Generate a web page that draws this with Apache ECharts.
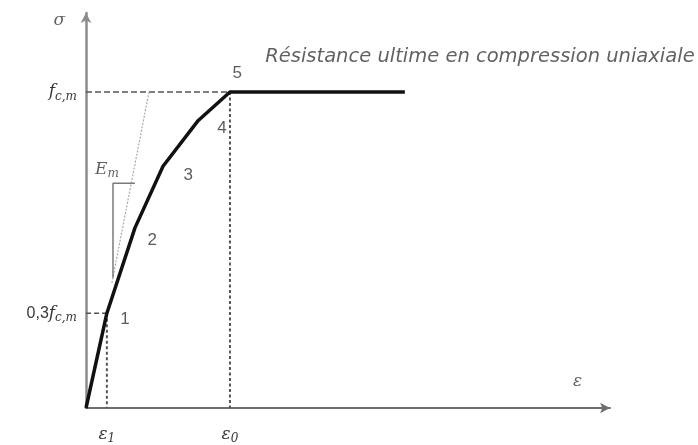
<!DOCTYPE html>
<html>
<head>
<meta charset="utf-8">
<script src="https://cdn.jsdelivr.net/npm/echarts@6/dist/echarts.min.js"></script>
<style>html,body{margin:0;padding:0;background:#fff}#c{width:698px;height:445px}</style>
</head>
<body>
<div id="c"></div>
<script>
// Strain (relative units, epsilon0 = 2) and normalised stress (fcm = 1)
const epsilon = [0, 0.29, 0.68, 1.07, 1.56, 2.0, 4.43];
const sigma   = [0, 0.30, 0.57, 0.765, 0.91, 1.0, 1.0];
const eps1 = 0.29, eps0 = 2.0;
const fcm = 1.0, fcm03 = 0.3;
// tangent (secant modulus Em) line and its slope triangle
const tangentX = [0.36, 0.875];
const tangentY = [0.396, 1.0];
const triX = [0.375, 0.375, 0.68];
const triY = [0.412, 0.711, 0.711];
// point numbers
const ptLabels = ['1', '2', '3', '4', '5'];
const ptX = [0.54, 0.92, 1.42, 1.89, 2.10];
const ptY = [0.28, 0.53, 0.736, 0.884, 1.06];
const titleText = 'Résistance ultime en compression uniaxiale';
const titlePos = [2.49, 1.11];
const emPos = [0.125, 0.755];
const sigmaPos = [-0.37, 1.225];
const epsPos = [6.83, 0.085];

const txt = '#38383c';
const chart = echarts.init(document.getElementById('c'));
const zip = (a, b) => a.map((v, i) => [v, b[i]]);
const mathRich = {
  i: {fontFamily: 'DejaVu Serif', fontStyle: 'italic', fontSize: 17, color: txt},
  s: {fontFamily: 'DejaVu Serif', fontStyle: 'italic', fontSize: 12, color: txt, padding: [9, 0, 0, 0]},
  n: {fontFamily: 'Liberation Sans', fontSize: 16, color: txt}
};
const textPoint = (pos, text, extra) => ({
  value: pos,
  label: Object.assign({show: true, formatter: text, rich: mathRich, color: txt}, extra || {})
});

chart.setOption({
  animation: false,
  grid: {left: 86, right: 88, top: 13, bottom: 34},
  xAxis: {
    type: 'value', min: 0, max: 7.28,
    splitLine: {show: false},
    axisTick: {show: false},
    axisLine: {show: true, onZero: false, symbol: ['none', 'arrow'], symbolSize: [8, 10],
      lineStyle: {color: '#6e6e6e', width: 2}},
    axisLabel: {
      customValues: [eps1, eps0], margin: 16,
      formatter: v => v === eps1 ? '{i|ε}{s|1}' : '{i|ε}{s|0}',
      rich: mathRich
    }
  },
  yAxis: {
    type: 'value', min: 0, max: 1.25,
    splitLine: {show: false},
    axisTick: {show: false},
    axisLine: {show: true, onZero: false, symbol: ['none', 'arrow'], symbolSize: [8, 10],
      lineStyle: {color: '#8c8c8c', width: 2.5}},
    axisLabel: {
      customValues: [fcm03, fcm], margin: 9,
      formatter: v => v === fcm ? '{i|f}{s|c,m}' : '{n|0,3}{i|f}{s|c,m}',
      rich: mathRich
    }
  },
  series: [
    {type: 'line', data: [[0, fcm], [eps0, fcm]], symbol: 'none', silent: true,
      lineStyle: {color: '#555', width: 1.5, type: [6, 3]}},
    {type: 'line', data: [[eps0, fcm], [eps0, 0]], symbol: 'none', silent: true,
      lineStyle: {color: '#555', width: 2, type: [3, 2.5]}},
    {type: 'line', data: [[0, fcm03], [eps1, fcm03]], symbol: 'none', silent: true,
      lineStyle: {color: '#555', width: 1.5, type: [5, 3]}},
    {type: 'line', data: [[eps1, fcm03], [eps1, 0]], symbol: 'none', silent: true,
      lineStyle: {color: '#555', width: 2, type: [3, 2.5]}},
    {type: 'line', data: zip(tangentX, tangentY), symbol: 'none', silent: true,
      lineStyle: {color: '#a8a8a8', width: 1.2, type: [2, 1.5]}},
    {type: 'line', data: zip(triX, triY), symbol: 'none', silent: true,
      lineStyle: {color: '#7a7a7a', width: 1.5}},
    {type: 'line', data: zip(epsilon, sigma), symbol: 'none', silent: true,
      lineStyle: {color: '#111', width: 3.5, join: 'round'}},
    {type: 'scatter', symbolSize: 0, clip: false, silent: true,
      data: ptLabels.map((t, i) => textPoint([ptX[i], ptY[i]], t,
        {position: 'inside', fontFamily: 'Liberation Sans', fontSize: 17, color: '#333'}))
        .concat([
          textPoint(titlePos, titleText, {position: 'right', distance: 0,
            fontFamily: 'DejaVu Sans', fontStyle: 'italic', fontSize: 19.5, color: '#3a3a3a'}),
          textPoint(emPos, '{i|E}{s|m}', {position: 'right', distance: 0}),
          textPoint(sigmaPos, '{i|σ}', {position: 'inside'}),
          textPoint(epsPos, '{i|ε}', {position: 'inside'})
        ])
    }
  ]
});
</script>
</body>
</html>
